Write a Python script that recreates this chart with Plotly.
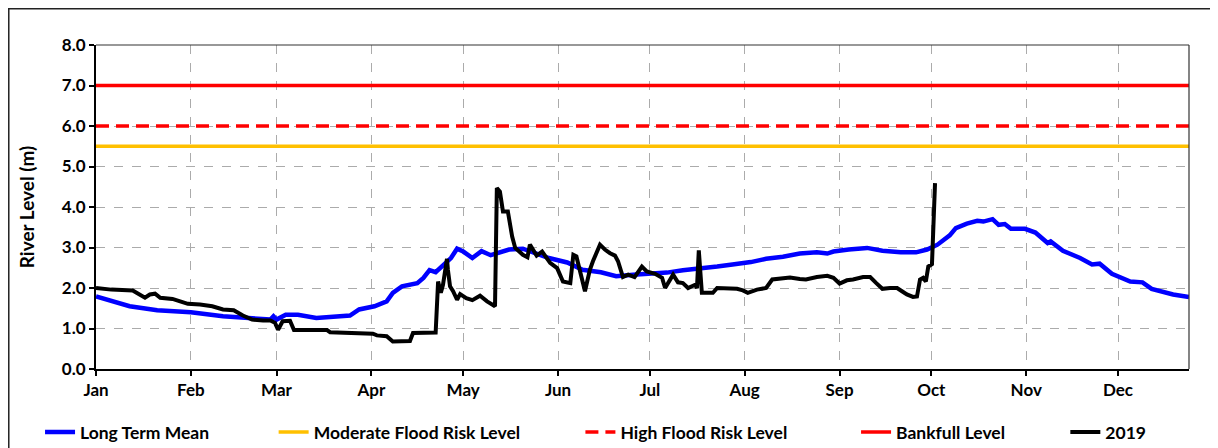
import pandas as pd
import plotly.graph_objects as go

# ---- data (day offset from 1 Jan 2019, river level in m) ----
mean_days = [0, 11, 20, 31, 41.5, 50, 57, 58, 59, 62, 66, 72, 77, 83, 86, 91, 95, 97, 100, 105,
             107, 109, 111, 113, 116, 118, 120, 123, 126, 129, 132, 135, 139.5, 144, 148, 154,
             159, 165, 170, 175.5, 181, 186.6, 191.8, 197, 203, 208, 214, 219, 224.5, 230,
             235.6, 239, 241, 246, 252, 257, 263, 268, 271.6, 275, 279, 281, 284.6, 288, 290,
             293, 295, 297, 299, 303.6, 307, 311, 312, 316, 321.6, 325.5, 328, 332, 338, 342,
             345, 352, 357.2]
mean_vals = [1.79, 1.55, 1.45, 1.40, 1.30, 1.26, 1.22, 1.30, 1.22, 1.34, 1.34, 1.26, 1.28, 1.32,
             1.47, 1.55, 1.67, 1.88, 2.04, 2.12, 2.25, 2.44, 2.39, 2.53, 2.74, 2.97, 2.90, 2.74,
             2.91, 2.81, 2.88, 2.95, 2.97, 2.86, 2.74, 2.63, 2.45, 2.39, 2.29, 2.33, 2.35, 2.38,
             2.44, 2.47, 2.53, 2.58, 2.64, 2.72, 2.77, 2.85, 2.88, 2.85, 2.90, 2.95, 2.99, 2.92,
             2.88, 2.88, 2.95, 3.07, 3.30, 3.48, 3.59, 3.66, 3.64, 3.70, 3.56, 3.58, 3.46, 3.46,
             3.37, 3.11, 3.15, 2.92, 2.74, 2.58, 2.60, 2.35, 2.16, 2.14, 1.98, 1.84, 1.78]

y2019_days = [0, 5, 12, 14.4, 16, 17.6, 19.3, 21, 25, 27.5, 30, 34, 38, 41.5, 45, 48, 51, 54.6,
              57, 58.5, 59.5, 61, 63.4, 64.7, 75.5, 76.5, 84, 90.5, 91.8, 95, 97, 102.6, 103.6,
              111, 111.8, 112.7, 113.4, 114.7, 115, 115.7, 116.7, 118, 119, 121, 123, 125.5,
              127.8, 130.4, 131, 132, 133, 134.6, 136, 137, 139.5, 141, 141.8, 144, 145.8,
              148.4, 150.7, 152.6, 155, 156, 157, 159.8, 161.4, 162.4, 164.7, 166.3, 168, 169.6,
              170.6, 172.2, 173.9, 176, 178.4, 180, 182.7, 185, 186, 188.6, 190.2, 191.8, 193.5,
              195.8, 196.4, 197, 198, 201.6, 203, 207, 209.5, 211.4, 213, 216, 219, 221, 224.5,
              226.8, 230, 232, 235.6, 239, 241, 243, 245.4, 247.4, 250.7, 253, 255, 257, 259.5,
              261.8, 263.4, 265, 267, 268.3, 269.3, 270.3, 271.2, 272, 273.2, 274.2]
y2019_vals = [2.00, 1.96, 1.94, 1.84, 1.76, 1.84, 1.86, 1.76, 1.73, 1.67, 1.61, 1.59, 1.55, 1.47,
              1.45, 1.32, 1.22, 1.20, 1.20, 1.14, 0.97, 1.18, 1.19, 0.96, 0.96, 0.91, 0.90, 0.87,
              0.83, 0.81, 0.68, 0.69, 0.89, 0.90, 2.16, 1.88, 2.08, 2.72, 2.45, 2.04, 1.92, 1.71,
              1.85, 1.75, 1.70, 1.81, 1.67, 1.55, 4.47, 4.38, 3.89, 3.89, 3.27, 2.99, 2.82, 2.76,
              3.07, 2.80, 2.90, 2.62, 2.49, 2.16, 2.12, 2.82, 2.78, 1.92, 2.45, 2.66, 3.07, 2.95,
              2.86, 2.80, 2.66, 2.27, 2.33, 2.27, 2.53, 2.41, 2.35, 2.25, 2.00, 2.33, 2.14, 2.12,
              2.00, 2.08, 2.00, 2.93, 1.88, 1.88, 2.00, 2.00, 1.98, 1.94, 1.88, 1.96, 2.00, 2.21,
              2.23, 2.26, 2.22, 2.21, 2.27, 2.30, 2.25, 2.11, 2.19, 2.21, 2.27, 2.27, 2.12, 1.98,
              2.00, 2.00, 1.92, 1.84, 1.78, 1.79, 2.21, 2.25, 2.16, 2.53, 2.59, 4.59]

moderate_level = 5.5
high_level = 6.0
bankfull_level = 7.0

series_names = ["Long Term Mean", "Moderate Flood Risk Level", "High Flood Risk Level",
                "Bankfull Level", "2019"]

# ---- build ----
start = pd.Timestamp("2019-01-01")
to_dates = lambda d: start + pd.to_timedelta(pd.Series(d, dtype=float), unit="D")
x_end = start + pd.Timedelta(days=357.2)
span = [start, x_end]

NB = "\u00a0"
pads = [14, 13, 15, 13, 0]
legend_labels = [n + NB * p for n, p in zip(series_names, pads)]

FONT = "Lato"
fig = go.Figure()
fig.add_trace(go.Scatter(x=to_dates(mean_days), y=mean_vals, mode="lines", name=legend_labels[0],
                         line=dict(color="#0000FF", width=4.5)))
fig.add_trace(go.Scatter(x=span, y=[moderate_level] * 2, mode="lines", name=legend_labels[1],
                         line=dict(color="#FFC000", width=3.5)))
fig.add_trace(go.Scatter(x=span, y=[high_level] * 2, mode="lines", name=legend_labels[2],
                         line=dict(color="#FF0000", width=3.5, dash="13px,7px")))
fig.add_trace(go.Scatter(x=span, y=[bankfull_level] * 2, mode="lines", name=legend_labels[3],
                         line=dict(color="#FF0000", width=3.5)))
fig.add_trace(go.Scatter(x=to_dates(y2019_days), y=y2019_vals, mode="lines", name=legend_labels[4],
                         line=dict(color="#000000", width=4)))

tickfont = dict(family=FONT, size=17, color="black", weight="bold")
fig.update_layout(
    width=1210, height=440, autosize=False,
    margin=dict(l=88, r=29, t=37, b=79, autoexpand=False),
    paper_bgcolor="white", plot_bgcolor="white",
    font=dict(family=FONT, color="black"),
    showlegend=True,
    legend=dict(orientation="h", x=-0.0512, xanchor="left", y=-0.195, yanchor="middle",
                font=dict(family=FONT, size=17.5, color="black", weight="bold"),
                itemwidth=30, tracegroupgap=0),
    xaxis=dict(type="date", range=span, tick0="2019-01-01", dtick="M1", tickformat="%b",
               showgrid=True, gridcolor="#ABABAB", griddash="dash", gridwidth=1,
               showline=True, linecolor="black", linewidth=2,
               ticks="outside", ticklen=5, tickwidth=1.5, tickcolor="black",
               tickfont=tickfont, zeroline=False),
    yaxis=dict(range=[0, 8], dtick=1, tickformat=".1f",
               showgrid=True, gridcolor="#ABABAB", griddash="dash", gridwidth=1,
               showline=True, linecolor="black", linewidth=2,
               ticks="outside", ticklen=5, tickwidth=1.5, tickcolor="black",
               tickfont=tickfont, zeroline=False,
               title=dict(text="River Level (m)", standoff=22,
                          font=dict(family=FONT, size=19, color="black", weight="bold"))),
    shapes=[
        dict(type="line", xref="paper", yref="paper", x0=0, x1=1, y0=1, y1=1,
             line=dict(color="#333333", width=1.2)),
        dict(type="line", xref="paper", yref="paper", x0=1, x1=1, y0=0, y1=1,
             line=dict(color="#333333", width=1.2)),
        dict(type="rect", xref="paper", yref="paper", x0=-0.0798, x1=1.05, y0=-0.3, y1=1.1119,
             line=dict(color="#222222", width=1.5)),
    ],
)

fig.write_html("out.html")
